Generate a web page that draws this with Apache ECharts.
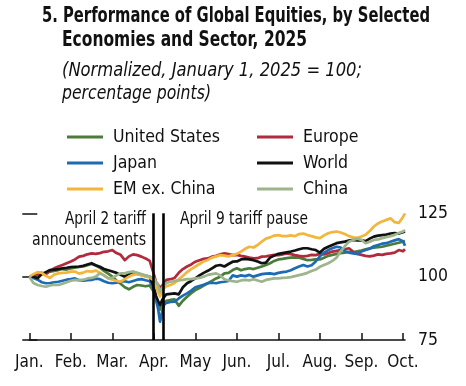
<!DOCTYPE html>
<html>
<head>
<meta charset="utf-8">
<script src="https://cdn.jsdelivr.net/npm/echarts@6/dist/echarts.min.js"></script>
<style>html,body{margin:0;padding:0;background:#fff;}#c{width:466px;height:386px;}</style>
</head>
<body>
<div id="c"></div>
<script>
// x positions in months since Jan 1, 2025
const months = [
0,0.1,0.2,0.3,0.4,0.5,0.6,0.7,0.8,0.9,
1,1.1,1.2,1.3,1.4,1.5,1.6,1.7,1.8,1.9,
2,2.1,2.2,2.3,2.4,2.5,2.6,2.7,2.8,2.9,
3,3.05,3.1,3.15,3.2,3.25,
3.3,3.4,3.5,3.6,3.7,3.8,3.9,
4,4.1,4.2,4.3,4.4,4.5,4.6,4.7,4.8,4.9,
5,5.1,5.2,5.3,5.4,5.5,5.6,5.7,5.8,5.9,
6,6.1,6.2,6.3,6.4,6.5,6.6,6.7,6.8,6.9,
7,7.1,7.2,7.3,7.4,7.5,7.6,7.7,7.8,7.9,
8,8.1,8.2,8.3,8.4,8.5,8.6,8.7,8.8,8.9,
9,9.05];

const unitedStates = [
100,100.3,100.5,101.0,101.5,102.0,102.3,102.6,103.0,102.8,
103.3,103.5,103.8,104.0,104.5,105.0,104.4,103.5,102.3,101.2,
100.0,98.5,97.2,95.8,95.0,96.0,96.7,96.5,96.2,96.5,
94.0,91.0,88.5,87.0,88.8,89.5,
90.5,90.8,91.0,88.5,90.5,92.1,93.5,
94.7,95.5,96.5,97.4,98.3,99.3,100.0,101.3,101.5,102.6,
103.3,102.5,103.0,103.3,103.0,103.5,104.0,104.6,105.3,106.2,
106.8,107.0,107.3,107.5,107.6,107.5,107.0,106.5,106.6,106.8,
106.8,107.5,108.2,108.6,109.0,109.3,109.5,109.8,109.6,110.0,
110.3,110.8,111.2,111.4,111.6,111.8,112.2,112.6,113.0,113.4,
113.8,114.0];

const europe = [
100,100.3,101.2,101.5,101.0,102.3,103.3,104.0,104.6,105.3,
106.0,106.8,107.9,108.2,108.8,109.2,109.0,109.3,109.8,110.0,
110.5,109.3,108.6,106.5,108.0,108.8,108.5,107.9,107.2,106.2,
101.0,98.0,96.8,95.5,96.5,97.5,
98.7,99.0,99.5,101.5,103.0,104.0,104.8,
105.9,106.5,107.0,107.2,107.9,108.2,108.8,109.2,108.9,108.5,
108.6,108.2,107.9,107.5,107.2,107.3,107.9,108.0,108.3,108.6,
108.5,108.8,109.2,108.9,108.5,108.2,108.0,108.2,108.6,108.5,
109.0,108.8,109.3,109.9,110.2,110.5,110.8,111.2,109.9,109.0,
108.6,108.2,108.0,108.3,108.8,108.6,109.0,109.2,109.5,110.5,
110.0,110.8];

const japan = [
100,99.5,98.8,97.8,97.4,97.5,97.8,98.0,98.4,98.8,
99.0,99.3,98.6,98.4,98.6,98.7,99.2,99.0,98.2,97.6,
97.4,97.6,98.0,98.2,97.8,98.3,98.8,99.0,98.6,98.2,
95.0,91.0,87.5,82.2,86.2,89.0,
89.6,90.0,90.1,91.4,92.5,93.4,94.5,
95.8,96.3,96.8,97.4,97.6,97.4,97.8,98.0,98.3,100.5,
100.0,100.5,100.2,100.7,100.0,100.5,101.0,101.2,101.3,101.0,
101.5,101.8,102.0,102.5,103.3,104.0,104.6,104.0,104.5,106.0,
108.0,109.5,110.5,111.2,111.8,111.5,110.0,109.5,109.2,109.0,
109.9,110.5,111.0,112.0,112.5,113.0,113.2,113.8,114.3,114.8,
114.0,112.2];

const world = [
100,100.0,99.4,101.0,101.8,102.6,102.8,103.0,103.3,103.5,
103.8,103.9,104.0,104.3,104.8,105.3,104.5,103.9,103.0,102.5,
102.0,101.5,100.7,100.0,101.2,101.8,101.2,100.7,100.3,100.0,
96.0,92.5,90.5,88.8,90.8,92.0,
93.0,93.2,93.4,93.0,95.8,97.4,98.3,
99.3,100.5,101.5,102.3,103.3,104.3,104.6,104.0,105.0,105.9,
106.0,106.8,107.0,106.8,106.5,106.0,105.3,105.5,107.5,108.3,
109.0,109.3,109.6,109.9,110.3,110.8,111.2,111.2,110.8,110.5,
109.5,111.0,111.8,112.5,113.2,113.5,113.8,114.2,114.5,114.3,
114.3,114.0,115.0,115.8,116.2,116.4,116.6,117.0,117.2,117.0,
117.5,117.8];

const emExChina = [
100,101.0,101.8,101.5,100.3,99.5,100.8,101.3,101.5,101.6,
102.0,102.0,101.2,101.6,102.2,102.0,102.4,101.6,100.5,99.5,
98.8,98.3,98.0,99.0,100.0,100.7,101.0,100.6,100.0,99.7,
98.5,96.0,94.0,92.2,94.5,95.5,
96.2,96.7,97.5,99.0,100.3,101.8,103.0,
104.0,105.0,106.0,106.6,107.5,108.0,108.5,108.3,108.0,108.5,
109.0,109.9,111.0,111.8,111.5,112.5,113.8,115.0,115.5,116.2,
116.4,116.0,116.0,116.3,116.0,116.8,117.0,116.4,116.0,115.5,
115.2,116.3,117.1,117.6,117.8,117.4,116.8,116.0,115.5,115.3,
115.8,116.5,118.0,119.8,121.0,121.8,122.4,123.0,121.5,121.2,
123.5,125.0];

const china = [
100,97.5,96.7,96.3,96.0,96.5,96.8,96.7,97.2,97.8,
98.4,98.7,98.5,98.8,99.3,99.5,100.0,101.3,100.5,99.3,
99.5,100.5,101.3,101.3,101.8,102.0,101.5,101.0,100.5,100.0,
99.5,98.0,96.7,94.0,95.5,96.7,
97.5,98.0,98.3,98.5,98.7,99.0,99.0,
99.3,99.5,100.0,100.7,101.0,101.3,100.5,99.0,98.5,98.2,
98.0,98.5,98.7,98.5,99.0,98.5,98.0,98.7,99.0,99.3,
99.3,99.5,99.6,99.8,100.2,100.6,101.0,101.5,102.2,102.8,
103.9,104.6,105.3,106.2,107.5,110.0,112.0,113.8,114.5,115.0,
114.5,113.2,113.8,114.5,114.7,115.2,115.6,116.0,116.5,117.2,
117.8,118.4];

const monthLabels = ['Jan.','Feb.','Mar.','Apr.','May','Jun.','Jul.','Aug.','Sep.','Oct.'];
const monthTicks = [0,1,2,3,4,5,6,7,8,9];
const yTicks = [75,100,125];
const eventLines = [2.98, 3.22]; // April 2 and April 9
const seriesNames = ['United States','Europe','Japan','World','EM ex. China','China'];
const seriesColors = ['#4a7c3b','#b22a3b','#1b6cb5','#111111','#f2b63d','#9db48c'];
const seriesValues = [unitedStates, europe, japan, world, emExChina, china];

const FAM = '"DejaVu Sans Condensed","DejaVu Sans",sans-serif';
const ctx = document.createElement('canvas').getContext('2d');
function measure(text, font) { ctx.font = font; return ctx.measureText(text).width; }
function fitSize(text, style, base, target) {
  return +(base * target / measure(text, style + ' ' + base + 'px ' + FAM)).toFixed(2);
}
// condensed text drawn as graphic, squeezed horizontally to the reference width
function condText(text, x, y, style, size, target, align) {
  const font = style + ' ' + size + 'px ' + FAM;
  const s = target / measure(text, font);
  return {type:'text', x:x, y:y, scaleX:s, scaleY:1, silent:true, z:10,
    style:{text:text, font:font, fill:'#111', verticalAlign:'middle', align:align || 'left'}};
}

const legendSize = fitSize('United States', 'normal', 20, 107);
const xLabSize = fitSize('Jan.', 'normal', 19, 28.5);
const yLabSize = fitSize('125', 'normal', 19, 30);

const chart = echarts.init(document.getElementById('c'), null, {renderer:'canvas'});

const series = seriesNames.map((name, i) => ({
  name: name,
  type: 'line',
  data: months.map((m, j) => [m, seriesValues[i][j]]),
  showSymbol: false,
  symbol: 'none',
  lineStyle: {color: seriesColors[i], width: 2.7, join: 'round'},
  itemStyle: {color: seriesColors[i]},
  emphasis: {disabled: true},
  clip: false,
  z: 2
}));
series.push({
  name: 'events',
  type: 'line',
  data: [],
  markLine: {
    silent: true,
    symbol: ['none','none'],
    label: {show: false},
    lineStyle: {color: '#000', width: 2.6, type: 'solid'},
    emphasis: {disabled: true},
    data: eventLines.map(v => ({xAxis: v}))
  },
  z: 5
});

const legendBase = {
  orient: 'vertical',
  icon: 'rect',
  itemWidth: 36,
  itemHeight: 3,
  itemGap: 6,
  padding: 0,
  top: 127,
  textStyle: {fontFamily: FAM, fontSize: legendSize, color: '#111', lineHeight: 20, padding: [0,0,0,5]},
  selectedMode: false
};

chart.setOption({
  animation: false,
  grid: {left: 29.3, right: 61, top: 213.3, bottom: 46, containLabel: false},
  legend: [
    Object.assign({}, legendBase, {left: 67, data: ['United States','Japan','EM ex. China']}),
    Object.assign({}, legendBase, {left: 257, data: ['Europe','World','China']})
  ],
  xAxis: {
    type: 'value', min: 0, max: 9.05, interval: 1,
    axisLine: {show: true, lineStyle: {color: '#111', width: 1.5}},
    axisTick: {show: true, inside: true, length: 7, lineStyle: {color: '#111', width: 1.5}, customValues: monthTicks},
    axisLabel: {
      customValues: monthTicks,
      margin: 14,
      fontFamily: FAM, fontSize: xLabSize, color: '#111',
      formatter: v => { const k = monthTicks.indexOf(Math.round(v*100)/100); return k >= 0 ? monthLabels[k] : ''; }
    },
    splitLine: {show: false}
  },
  yAxis: [
    {
      type: 'value', position: 'right', min: 75, max: 125, interval: 25,
      axisLine: {show: false},
      axisTick: {show: true, inside: false, length: 8, lineStyle: {color: '#111', width: 1.5}, customValues: yTicks},
      axisLabel: {margin: 13, fontFamily: FAM, fontSize: yLabSize, color: '#111', customValues: yTicks},
      splitLine: {show: false}
    },
    {
      type: 'value', position: 'left', min: 75, max: 125, interval: 25,
      axisLine: {show: false},
      axisTick: {show: true, inside: false, length: 7, lineStyle: {color: '#111', width: 1.5}},
      axisLabel: {show: false},
      splitLine: {show: false}
    }
  ],
  graphic: [
    condText('5. Performance of Global Equities, by Selected', 42, 17, 'bold', 21, 388),
    condText('Economies and Sector, 2025', 62, 41, 'bold', 21, 245),
    condText('(Normalized, January 1, 2025 = 100;', 62, 71, 'italic', 20, 300),
    condText('percentage points)', 62, 94, 'italic', 20, 149),
    condText('April 2 tariff', 146, 219, 'normal', 18, 81, 'right'),
    condText('announcements', 146, 240, 'normal', 18, 114, 'right'),
    condText('April 9 tariff pause', 180, 219, 'normal', 18, 128, 'left')
  ],
  series: series
});
</script>
</body>
</html>
